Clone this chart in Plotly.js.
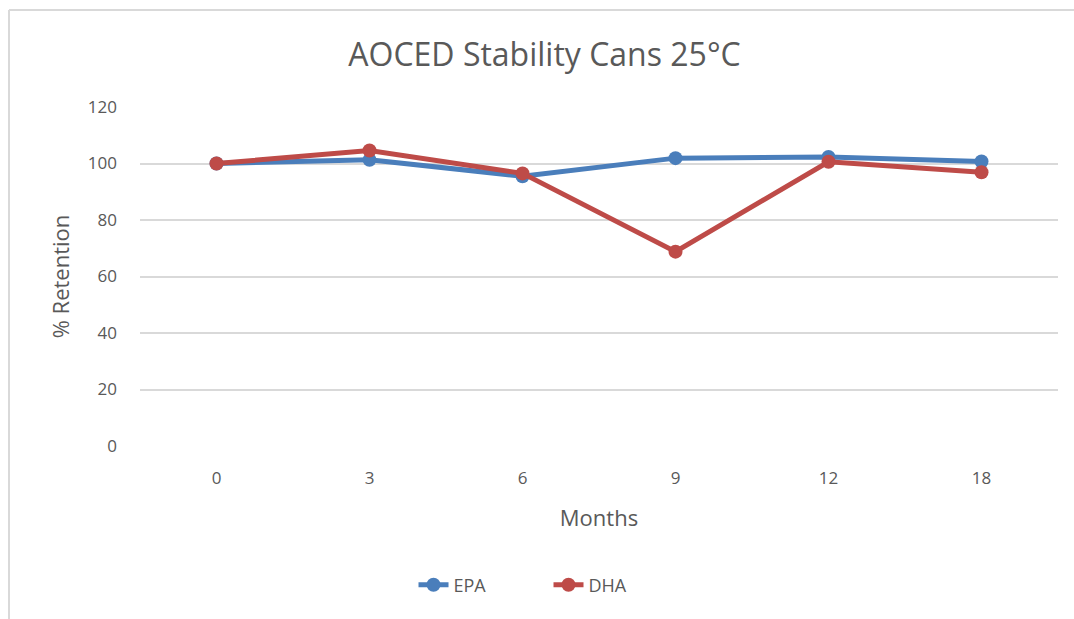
<!DOCTYPE html>
<html><head><meta charset="utf-8">
<script src="https://cdn.plot.ly/plotly-3.0.1.min.js"></script>
<style>html,body{margin:0;padding:0;background:#fff;}#chart{width:1074px;height:619px;}</style>
</head><body><div id="chart"></div>
<script>
var months = ["0", "3", "6", "9", "12", "18"];
var epa = [100, 101.3, 95.5, 101.9, 102.3, 100.7];
var dha = [100, 104.6, 96.5, 68.8, 100.6, 96.9];
var yTicks = [0, 20, 40, 60, 80, 100, 120];

var font = "'Open Sans', 'Noto Sans', sans-serif";
var traces = [
  {x: months, y: epa, name: "EPA", type: "scatter", mode: "lines+markers",
   line: {color: "#4a7ebb", width: 5}, marker: {color: "#4a7ebb", size: 14}},
  {x: months, y: dha, name: "DHA", type: "scatter", mode: "lines+markers",
   line: {color: "#be4b48", width: 5}, marker: {color: "#be4b48", size: 14}}
];
var layout = {
  width: 1074, height: 619,
  margin: {l: 140, r: 16, t: 107, b: 173},
  paper_bgcolor: "#fff", plot_bgcolor: "#fff",
  font: {family: font, color: "#595959"},
  title: {text: "AOCED Stability Cans 25°C", font: {size: 32, color: "#595959", family: font},
          x: 0.507, xanchor: "center", y: 0.912, yanchor: "middle"},
  xaxis: {type: "category", range: [-0.5, 5.5], tickvals: months, ticktext: months,
          title: {text: "Months", font: {size: 22, color: "#595959"}, standoff: 22},
          tickfont: {size: 17, color: "#595959"}, showgrid: false, zeroline: false,
          showline: false, ticks: "", ticklabelstandoff: 20},
  yaxis: {range: [0, 120], tickvals: yTicks, ticktext: yTicks.map(String),
          title: {text: "% Retention", font: {size: 22, color: "#595959"}, standoff: 12},
          tickfont: {size: 17, color: "#595959"}, showgrid: true, gridcolor: "#d9d9d9",
          gridwidth: 1.5, zeroline: false, showline: false, ticks: "", ticklabelstandoff: 22},
  showlegend: true,
  legend: {orientation: "h", x: 0.445, xanchor: "center", y: -0.41, yanchor: "middle",
           font: {size: 18, color: "#595959"}, entrywidth: 90},
  shapes: [
    {type: "line", xref: "paper", yref: "paper", x0: -0.1427, x1: 1.03, y0: 1.286, y1: 1.286,
     line: {color: "#d9d9d9", width: 2}},
    {type: "line", xref: "paper", yref: "paper", x0: -0.1427, x1: -0.1427, y0: 1.286, y1: -0.52,
     line: {color: "#d9d9d9", width: 2}}
  ]
};
Plotly.newPlot("chart", traces, layout, {displayModeBar: false});
</script></body></html>
